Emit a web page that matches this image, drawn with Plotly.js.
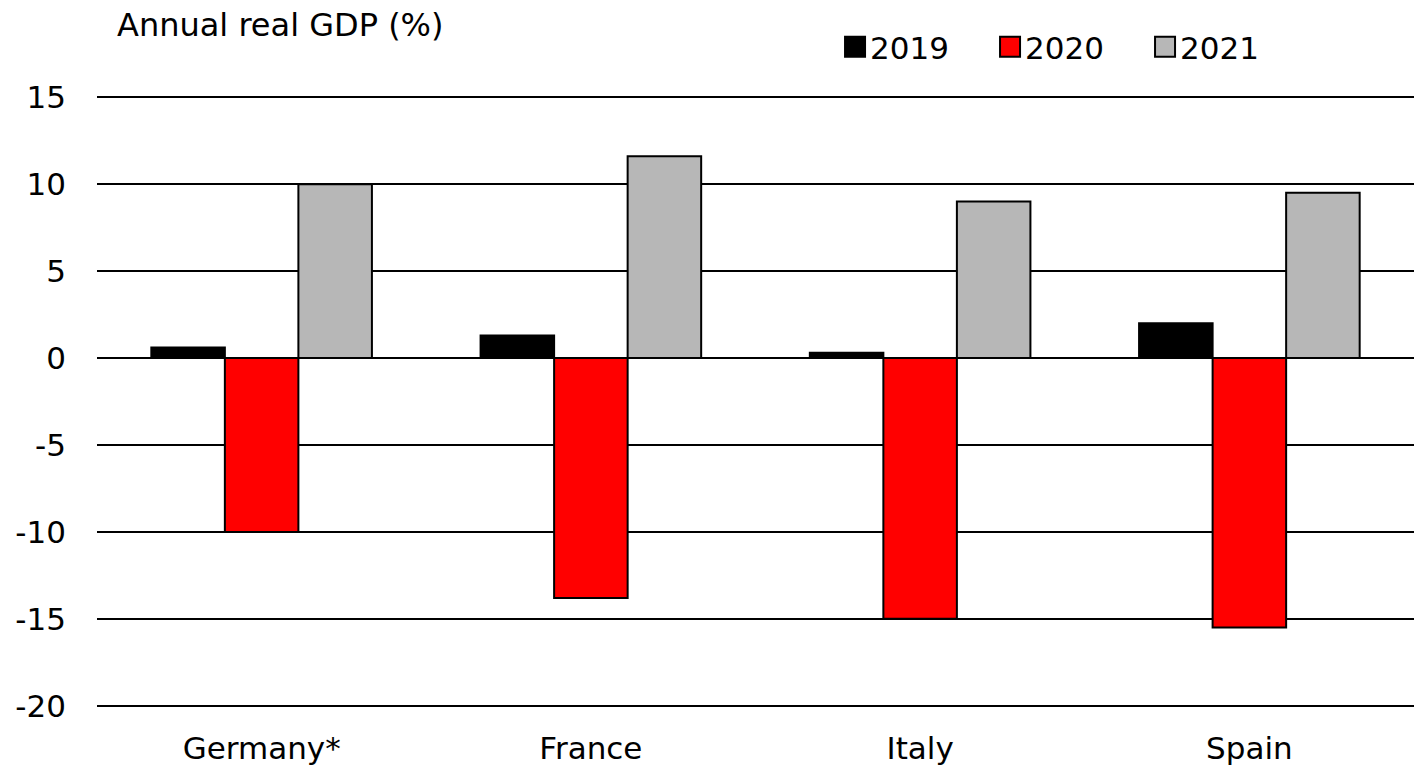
<!DOCTYPE html>
<html>
<head>
<meta charset="utf-8">
<script src="https://cdn.plot.ly/plotly-3.0.1.min.js"></script>
<style>html,body{margin:0;padding:0;background:#fff;}#chart{width:1414px;height:770px;}</style>
</head>
<body>
<div id="chart"></div>
<script>
var countries = ["Germany*", "France", "Italy", "Spain"];
var gdp2019 = [0.6, 1.3, 0.3, 2.0];
var gdp2020 = [-10.0, -13.8, -15.0, -15.5];
var gdp2021 = [10.0, 11.6, 9.0, 9.5];
var seriesNames = ["2019", "2020", "2021"];
var seriesColors = ["#000000", "#ff0000", "#b7b7b7"];
var tickVals = [-20, -15, -10, -5, 0, 5, 10, 15];

var values = [gdp2019, gdp2020, gdp2021];
var traces = values.map(function (v, i) {
  return {
    type: "bar",
    name: seriesNames[i],
    x: countries,
    y: v,
    marker: { color: seriesColors[i], line: { color: "#000", width: 2 } },
    hoverinfo: "x+y+name"
  };
});

var font = "DejaVu Sans, Verdana, sans-serif";
var fs = 31;
var layout = {
  width: 1414,
  height: 770,
  margin: { l: 97, r: 0, t: 96, b: 63 },
  paper_bgcolor: "#fff",
  plot_bgcolor: "#fff",
  barmode: "group",
  bargap: 0.33,
  bargroupgap: 0,
  font: { family: font, size: fs, color: "#000" },
  xaxis: {
    showgrid: false,
    showline: false,
    zeroline: false,
    ticks: "",
    ticklabelstandoff: 20,
    tickfont: { family: font, size: fs, color: "#000" }
  },
  yaxis: {
    range: [-20.07, 15.07],
    tickvals: tickVals,
    ticktext: tickVals.map(String),
    showgrid: true,
    gridcolor: "#000",
    gridwidth: 2,
    zeroline: true,
    zerolinecolor: "#000",
    zerolinewidth: 2,
    showline: false,
    ticks: "",
    ticklabelstandoff: 30,
    tickfont: { family: font, size: fs, color: "#000" }
  },
  legend: {
    orientation: "h",
    x: 0.5566,
    y: 1.08,
    xanchor: "left",
    yanchor: "middle",
    font: { family: font, size: fs, color: "#000" },
    traceorder: "normal",
    itemwidth: 30,
    entrywidth: 110,
    entrywidthmode: "pixels",
    bgcolor: "rgba(0,0,0,0)"
  },
  annotations: [{
    text: "Annual real GDP (%)",
    xref: "paper",
    yref: "paper",
    x: 0.0137,
    y: 1.116,
    xanchor: "left",
    yanchor: "middle",
    showarrow: false,
    font: { family: font, size: 32, color: "#000" }
  }]
};

Plotly.newPlot("chart", traces, layout, { displayModeBar: false, staticPlot: true }).then(function (gd) {
  var paths = gd.querySelectorAll(".legend .legendpoints path");
  paths.forEach(function (p) {
    p.setAttribute("d", "M-5,-10h20v20h-20Z");
    p.style.strokeWidth = "2px";
  });
});
</script>
</body>
</html>
